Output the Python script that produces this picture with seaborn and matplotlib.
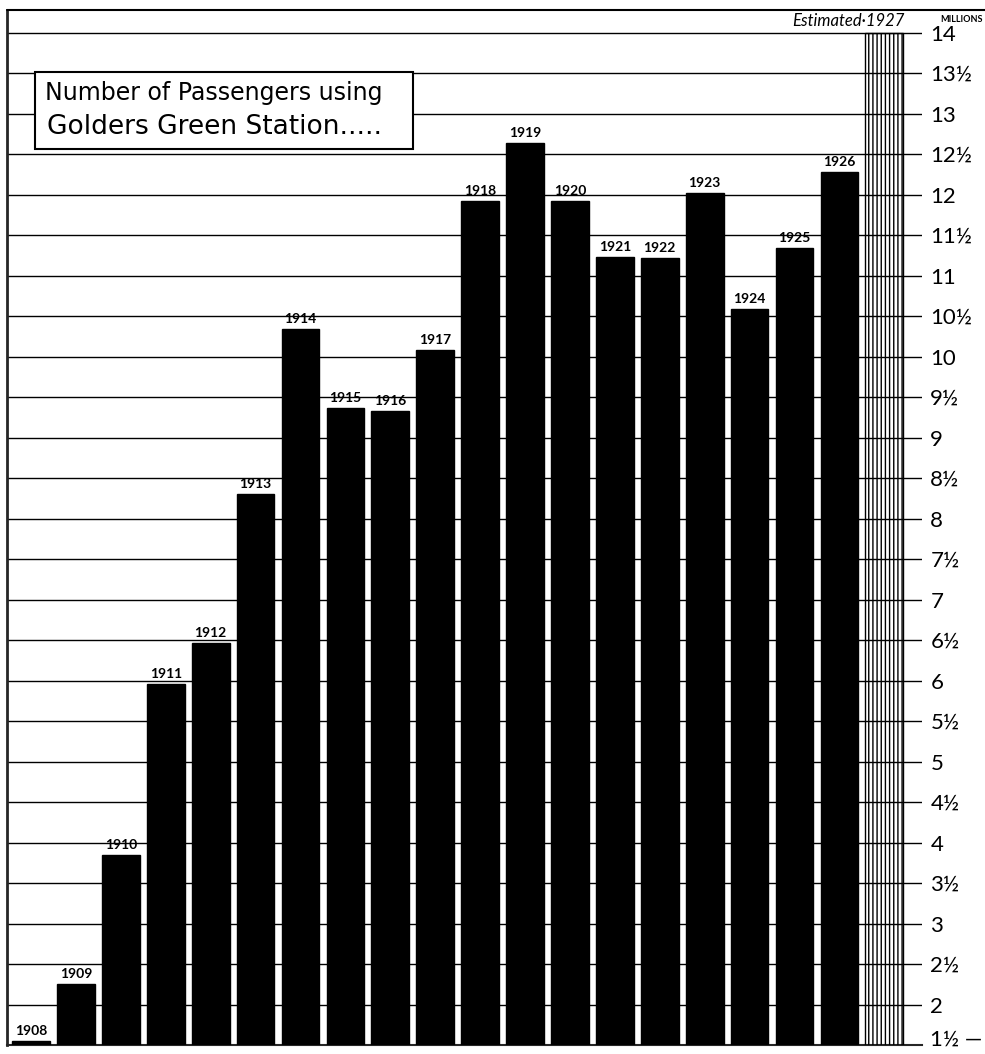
import numpy as np
import matplotlib
matplotlib.use("Agg")
import matplotlib.pyplot as plt
import matplotlib.transforms as mtransforms
import seaborn as sns
import pandas as pd
from matplotlib.lines import Line2D
from matplotlib.patches import Rectangle

# passengers using Golders Green station, millions (1927 is an estimate)
years = ['1908', '1909', '1910', '1911', '1912', '1913', '1914', '1915', '1916',
         '1917', '1918', '1919', '1920', '1921', '1922', '1923', '1924', '1925',
         '1926', '1927']
passengers = [1.55, 2.25, 3.85, 5.96, 6.46, 8.30, 10.34, 9.36, 9.33,
              10.08, 11.92, 12.64, 11.92, 11.23, 11.22, 12.02, 10.59, 11.34,
              12.28, 14.0]
estimated = '1927'

tick_values = list(np.arange(1.5, 14.01, 0.5))
tick_labels = ['1½ —', '2', '2½', '3', '3½', '4', '4½', '5', '5½', '6', '6½',
               '7', '7½', '8', '8½', '9', '9½', '10', '10½', '11', '11½',
               '12', '12½', '13', '13½', '14']

sns.set_style("white")
plt.rcParams['font.family'] = ['Lato', 'DejaVu Sans']
plt.rcParams['hatch.linewidth'] = 1.0
plt.rcParams['text.color'] = 'black'

df = pd.DataFrame({'Year': years, 'Passengers': passengers})
colors = ['black' if y != estimated else 'none' for y in years]

fig = plt.figure(figsize=(9.85, 10.54), dpi=100)
W, H = 985, 1054
ax = fig.add_axes([7 / W, (H - 1045) / H, (922 - 7) / W, (1045 - 10) / H])

sns.barplot(data=df, x='Year', y='Passengers', hue='Year', palette=colors,
            legend=False, width=0.84, ax=ax, zorder=3, saturation=1)

for cont, yr in zip(ax.containers, years):
    for p in cont.patches:
        if yr == estimated:
            p.set_facecolor('none')
            p.set_edgecolor('black')
            p.set_hatch('||||')
            p.set_linewidth(1.0)
        else:
            p.set_edgecolor('black')
    if yr != estimated:
        ax.bar_label(cont, labels=[yr], padding=3, fontsize=10,
                     fontweight='bold', color='black', zorder=5)

ax.set_xlim(-0.535, 19.84)
ax.set_ylim(1.5, 14.28)
ax.set_yticks(tick_values)
ax.set_yticklabels(tick_labels, fontsize=16, color='black')
ax.yaxis.tick_right()
ax.tick_params(axis='y', length=0, pad=6, colors='black')
ax.set_xticks([])
ax.set_xlabel('')
ax.set_ylabel('')
for v in tick_values[1:]:
    ax.axhline(v, color='black', lw=1.0, zorder=1)

# lift the bottom label a little so it stays inside the picture
lab = ax.get_yticklabels()[0]
lab.set_transform(lab.get_transform() +
                  mtransforms.ScaledTranslation(0, 5 / 72, fig.dpi_scale_trans))

ax.spines['right'].set_visible(False)
ax.spines['top'].set_visible(False)
ax.spines['left'].set_linewidth(2)
ax.spines['bottom'].set_linewidth(1.5)
fig.add_artist(Line2D([7 / W, 1.0], [1 - 10 / H, 1 - 10 / H],
                      color='black', lw=1.5))

ax.text(len(years) - 1 + 0.45, 14.04, 'Estimated·1927', ha='right', va='bottom',
        fontsize=12, style='italic', color='black', zorder=5)
fig.text(940 / W, 1 - 20 / H, 'MILLIONS', ha='left', va='center', fontsize=6.5,
         fontweight='bold', color='black')

# title box
ax.add_patch(Rectangle((28 / 915, 1 - 139 / 1035), 378 / 915, 77 / 1035,
                       transform=ax.transAxes, fc='white', ec='black', lw=1.5,
                       zorder=6))
ax.text(38 / 915, 1 - 83 / 1035, 'Number of Passengers using',
        transform=ax.transAxes, ha='left', va='center', fontsize=17,
        family=['DejaVu Sans'], color='black', zorder=7)
ax.text(40 / 915, 1 - 117 / 1035, 'Golders Green Station.....',
        transform=ax.transAxes, ha='left', va='center', fontsize=19,
        family=['DejaVu Sans'], color='black', zorder=7)

fig.savefig('out.png', dpi=100, facecolor='white')
